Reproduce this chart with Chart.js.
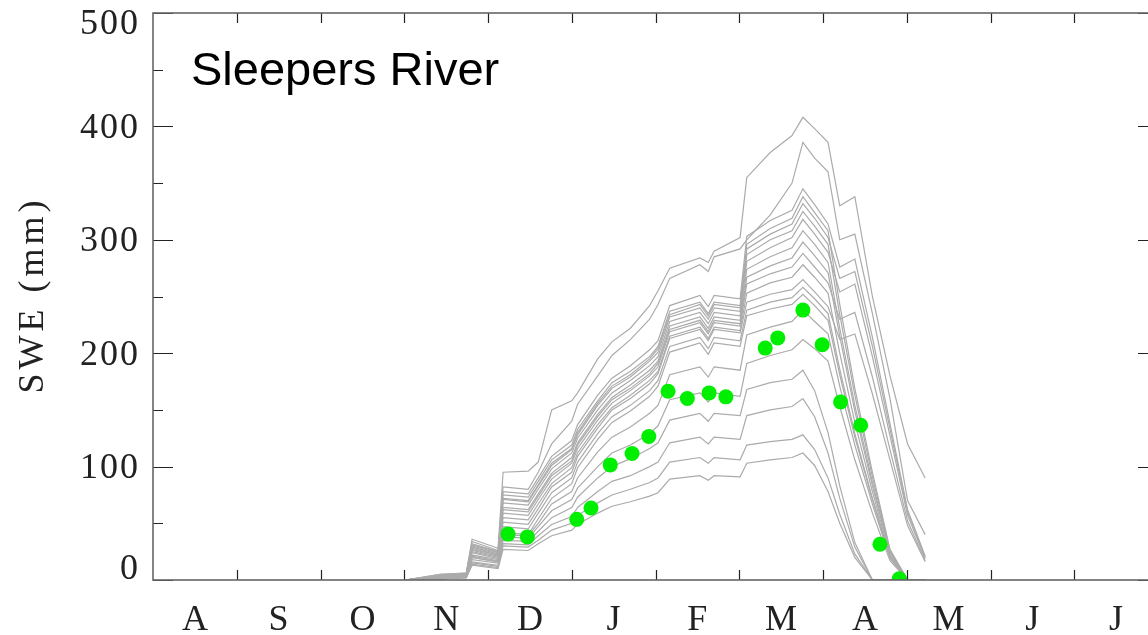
<!DOCTYPE html>
<html>
<head>
<meta charset="utf-8">
<script src="https://cdn.jsdelivr.net/npm/chart.js@4"></script>
<style>
    html, body { margin: 0; padding: 0; background: #fff; overflow: hidden; }
    #wrap { width: 1148px; height: 635px; overflow: hidden; }
    canvas { display: block; }
</style>
</head>
<body>
<div id="wrap"><canvas id="sweChart" width="1170" height="635"></canvas></div>
<script>
// eje x en meses desde el 1 de agosto (0 = Aug 1, 12 = Aug 1 siguiente)
const monthLabels = ['A', 'S', 'O', 'N', 'D', 'J', 'F', 'M', 'A', 'M', 'J', 'J'];
const yTicks = [0, 100, 200, 300, 400, 500];

// fechas comunes de las simulaciones (meses)
const simMonths = [3.01, 3.43, 3.74, 3.81, 4.12, 4.18, 4.48, 4.60, 4.76, 5.00, 5.07, 5.31, 5.48, 5.70, 5.93, 6.03, 6.17,
    6.53, 6.63, 6.70, 7.01, 7.09, 7.37, 7.63, 7.76, 7.90, 8.06, 8.20, 8.38, 8.59, 8.80, 9.01, 9.22];

// SWE simulado (mm), un array por corrida
const run01 = [0, 5, 6, 36, 28, 95, 96, 104, 150, 158, 165, 195, 210, 222, 242, 255, 275, 284, 280, 290, 302, 355, 377, 392, 408, 398, 386, 330, 338, 250, 180, 120, 90];
const run02 = [0, 4, 5, 34, 26, 82, 80, 95, 120, 140, 155, 180, 198, 212, 230, 243, 266, 278, 272, 285, 292, 300, 322, 350, 386, 372, 360, 300, 305, 235, 160, 70, 40];
const run03 = [0, 5, 6, 32, 25, 78, 76, 90, 109, 123, 137, 163, 178, 189, 203, 211, 242, 251, 241, 251, 248, 303, 317, 326, 345, 331, 314, 276, 283, 214, 138, 62, 21];
const run04 = [0, 4, 5, 30, 24, 75, 73, 87, 106, 119, 133, 158, 174, 184, 197, 206, 237, 245, 235, 245, 242, 296, 310, 319, 338, 324, 308, 243, 169, 95, 27, 0, 0];
const run05 = [0, 4, 6, 31, 25, 72, 70, 84, 103, 116, 130, 156, 171, 181, 195, 204, 234, 243, 233, 243, 240, 292, 305, 314, 332, 319, 302, 266, 272, 206, 133, 60, 20];
const run06 = [0, 3, 5, 29, 23, 71, 69, 83, 101, 115, 128, 154, 169, 179, 193, 201, 232, 240, 230, 240, 237, 287, 300, 308, 325, 312, 296, 234, 163, 91, 26, 0, 0];
const run07 = [0, 4, 5, 28, 22, 68, 66, 80, 98, 112, 125, 150, 165, 176, 189, 197, 228, 236, 226, 236, 233, 281, 293, 302, 318, 305, 289, 254, 261, 197, 127, 57, 19];
const run08 = [0, 3, 4, 27, 22, 64, 62, 76, 94, 108, 121, 146, 161, 172, 185, 193, 224, 232, 222, 232, 229, 274, 285, 293, 308, 296, 280, 222, 154, 86, 25, 0, 0];
const run09 = [0, 3, 4, 26, 21, 62, 60, 74, 92, 105, 119, 144, 159, 169, 182, 191, 221, 229, 219, 229, 226, 267, 277, 284, 298, 286, 271, 215, 149, 83, 24, 0, 0];
const run10 = [0, 3, 4, 25, 20, 59, 57, 71, 89, 103, 116, 141, 156, 167, 180, 188, 219, 227, 217, 227, 224, 261, 270, 276, 288, 276, 262, 230, 236, 179, 115, 52, 17];
const run11 = [0, 2, 4, 24, 19, 55, 53, 67, 85, 99, 112, 137, 152, 163, 176, 184, 215, 223, 213, 223, 220, 253, 262, 267, 278, 267, 253, 200, 139, 78, 22, 0, 0];
const run12 = [0, 2, 3, 22, 18, 51, 49, 63, 82, 95, 109, 134, 150, 160, 173, 182, 213, 221, 211, 221, 218, 245, 252, 256, 265, 254, 241, 212, 217, 164, 106, 48, 16];
const run13 = [0, 2, 3, 21, 17, 47, 45, 59, 77, 90, 104, 129, 144, 154, 167, 176, 206, 214, 204, 214, 211, 238, 245, 249, 258, 248, 235, 186, 129, 72, 21, 0, 0];
const run14 = [0, 2, 3, 20, 16, 42, 40, 54, 72, 85, 99, 124, 139, 149, 162, 171, 201, 209, 199, 209, 206, 233, 239, 243, 252, 242, 229, 181, 126, 71, 20, 0, 0];
const run15 = [0, 2, 3, 20, 16, 40, 39, 50, 67, 78, 90, 113, 126, 135, 147, 154, 181, 188, 179, 188, 185, 216, 223, 228, 238, 228, 217, 171, 119, 67, 19, 0, 0];
const run16 = [0, 2, 3, 18, 15, 38, 37, 47, 61, 71, 81, 100, 112, 119, 129, 136, 159, 165, 157, 165, 162, 191, 198, 203, 212, 204, 193, 153, 106, 59, 17, 0, 0];
const run17 = [0, 1, 2, 16, 13, 35, 34, 43, 55, 64, 73, 90, 100, 107, 116, 121, 141, 147, 140, 147, 145, 168, 174, 177, 185, 167, 130, 83, 33, 0, 0, 0, 0];
const run18 = [0, 1, 2, 15, 12, 32, 31, 39, 49, 56, 64, 78, 87, 92, 100, 104, 121, 126, 120, 126, 124, 145, 150, 153, 160, 144, 112, 72, 29, 0, 0, 0, 0];
const run19 = [0, 1, 2, 14, 11, 30, 29, 35, 44, 50, 57, 68, 75, 80, 86, 90, 104, 108, 103, 108, 106, 119, 122, 124, 128, 115, 90, 58, 23, 0, 0, 0, 0];
const run20 = [0, 1, 2, 13, 10, 27, 26, 32, 39, 44, 49, 59, 65, 69, 74, 77, 89, 92, 88, 92, 91, 103, 106, 108, 112, 101, 78, 50, 20, 0, 0, 0, 0];

// observaciones (puntos verdes)
const obsMonths = [4.24, 4.47, 5.06, 5.23, 5.46, 5.72, 5.92, 6.15, 6.38, 6.64, 6.84, 7.31, 7.46, 7.76, 7.99, 8.21, 8.45, 8.68, 8.91];
const obsSwe = [40.5, 38, 53.5, 63.5, 101.5, 111.5, 126.5, 166.5, 160, 165, 161.5, 204.5, 213.5, 238, 207.5, 157, 136.5, 31.5, 1];

const runs = [run01, run02, run03, run04, run05, run06, run07, run08, run09, run10,
    run11, run12, run13, run14, run15, run16, run17, run18, run19, run20];

const datasets = runs.map(run => ({
    type: 'line',
    data: run.map((v, i) => ({ x: simMonths[i], y: v })),
    borderColor: '#ababab',
    borderWidth: 1.2,
    pointRadius: 0,
    tension: 0,
    order: 2,
    clip: 0
}));

datasets.push({
    type: 'scatter',
    data: obsSwe.map((v, i) => ({ x: obsMonths[i], y: v })),
    backgroundColor: '#00ee00',
    borderWidth: 0,
    pointRadius: 7.5,
    order: 1,
    clip: 0
});

// ejes estilo IDL: marco, ticks hacia adentro y etiquetas
const frameAxes = {
    id: 'frameAxes',
    afterDraw(chart) {
        const ctx = chart.ctx;
        const area = chart.chartArea;
        const xs = chart.scales.x;
        const ys = chart.scales.y;
        ctx.save();

        // ticks y
        ctx.strokeStyle = '#222';
        ctx.lineWidth = 1.2;
        for (let v = 0; v <= 500; v += 50) {
            const py = Math.round(ys.getPixelForValue(v)) + 0.5;
            const len = v % 100 === 0 ? 20 : 10;
            ctx.beginPath();
            ctx.moveTo(area.left, py); ctx.lineTo(area.left + len, py);
            ctx.moveTo(area.right, py); ctx.lineTo(area.right - len, py);
            ctx.stroke();
        }
        // ticks x en los limites de mes
        for (let m = 1; m < 12; m++) {
            const px = Math.round(xs.getPixelForValue(m)) + 0.5;
            ctx.beginPath();
            ctx.moveTo(px, area.bottom); ctx.lineTo(px, area.bottom - 10);
            ctx.moveTo(px, area.top); ctx.lineTo(px, area.top + 10);
            ctx.stroke();
        }

        // marco
        ctx.strokeStyle = '#666';
        ctx.lineWidth = 1.6;
        ctx.strokeRect(area.left, area.top, area.right - area.left, area.bottom - area.top);

        // etiquetas
        ctx.fillStyle = '#222';
        ctx.font = '36px "Liberation Serif"';
        ctx.letterSpacing = '2px';
        ctx.textAlign = 'right';
        ctx.textBaseline = 'middle';
        yTicks.forEach(v => {
            let py = ys.getPixelForValue(v) + 2;
            py = Math.min(Math.max(py, area.top + 12), area.bottom - 10);
            ctx.fillText(String(v), 140, py);
        });
        ctx.letterSpacing = '0px';
        ctx.textAlign = 'center';
        monthLabels.forEach((lab, i) => {
            ctx.fillText(lab, xs.getPixelForValue(i + 0.5), 621);
        });

        // titulo del eje y
        ctx.save();
        ctx.translate(34, 297);
        ctx.rotate(-Math.PI / 2);
        ctx.font = '36px "Liberation Serif"';
        ctx.letterSpacing = '4px';
        ctx.fillText('SWE (mm)', 2, 0);
        ctx.restore();

        // nombre del sitio
        ctx.fillStyle = '#000';
        ctx.font = '47px "Liberation Sans"';
        ctx.letterSpacing = '0px';
        ctx.textAlign = 'left';
        ctx.textBaseline = 'alphabetic';
        ctx.fillText('Sleepers River', 191, 85);
        ctx.restore();
    }
};

document.addEventListener('DOMContentLoaded', () => {
    new Chart(document.getElementById('sweChart'), {
        type: 'line',
        data: { datasets: datasets },
        options: {
            responsive: false,
            animation: false,
            layout: { padding: { left: 153, right: 12, top: 13, bottom: 55 } },
            plugins: { legend: { display: false }, tooltip: { enabled: false } },
            scales: {
                x: { type: 'linear', min: 0, max: 12, display: false },
                y: { type: 'linear', min: 0, max: 500, display: false }
            }
        },
        plugins: [frameAxes]
    });
});
</script>
</body>
</html>
